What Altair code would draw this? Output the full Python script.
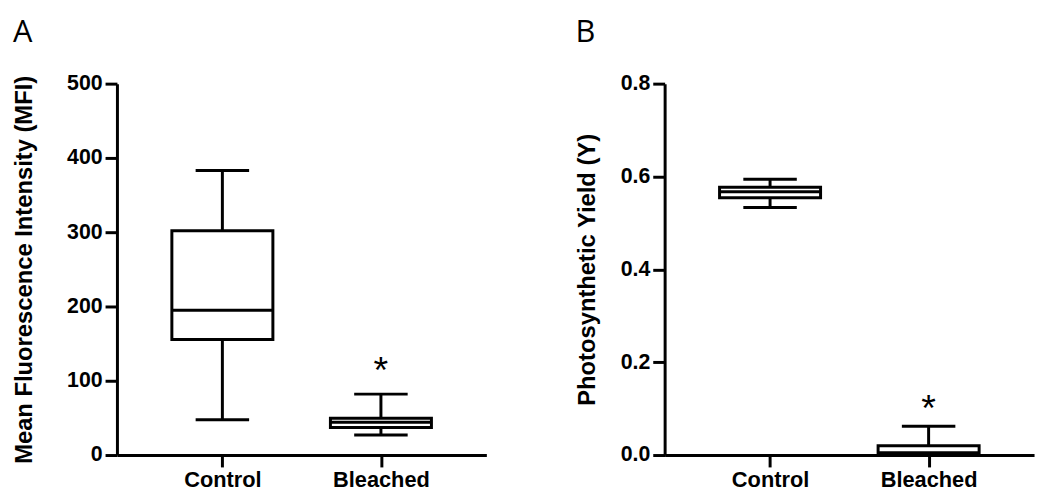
import altair as alt
import pandas as pd

categories = ["Control", "Bleached"]

# Panel A: Mean Fluorescence Intensity (MFI)
mfi_low = [47.5, 27.0]
mfi_q1 = [155.5, 37.0]
mfi_median = [195.0, 44.0]
mfi_q3 = [302.0, 49.5]
mfi_high = [383.0, 82.0]
mfi_star_group = ["Bleached"]
mfi_star = [124.0]
mfi_ticks = [0, 100, 200, 300, 400, 500]

# Panel B: Photosynthetic Yield (Y)
yield_low = [0.533, 0.0]
yield_q1 = [0.554, 0.003]
yield_median = [0.567, 0.005]
yield_q3 = [0.577, 0.020]
yield_high = [0.594, 0.062]
yield_star_group = ["Bleached"]
yield_star = [0.115]
yield_ticks = [0.0, 0.2, 0.4, 0.6, 0.8]


def panel(letter, low, q1, med, q3, high, star_group, star_vals, domain, ticks, fmt, ytitle, title_pad):
    df = pd.DataFrame({"group": categories, "low": low, "q1": q1, "median": med,
                       "q3": q3, "high": high})
    sdf = pd.DataFrame({"group": star_group, "star": star_vals})
    x = alt.X("group:N", sort=categories,
              scale=alt.Scale(type="point", padding=0.665),
              axis=alt.Axis(title=None, labelAngle=0, labelPadding=3, labelFontSize=22))
    yaxis = alt.Axis(title=ytitle, values=ticks, format=fmt, titlePadding=title_pad,
                     labelPadding=3)
    yscale = alt.Scale(domain=domain, nice=False, zero=True)

    def Y(f):
        return alt.Y(f, type="quantitative", scale=yscale, axis=yaxis)

    base = alt.Chart(df)
    whisk = base.mark_rule(color="black", strokeWidth=3).encode(x=x, y=Y("low"), y2="high")
    box = base.mark_bar(size=102, fill="white", stroke="black", strokeWidth=3,
                        opacity=1).encode(x=x, y=Y("q1"), y2="q3")
    medt = base.mark_tick(size=102, thickness=3, color="black", opacity=1).encode(x=x, y=Y("median"))
    cap_lo = base.mark_tick(size=54, thickness=3, color="black", opacity=1).encode(x=x, y=Y("low"))
    cap_hi = base.mark_tick(size=54, thickness=3, color="black", opacity=1).encode(x=x, y=Y("high"))
    star = alt.Chart(sdf).mark_text(text="*", fontSize=38, font="Liberation Sans",
                                    baseline="alphabetic", dy=20, color="black").encode(
        x=x, y=Y("star"))
    return alt.layer(whisk, box, medt, cap_lo, cap_hi, star).properties(
        width=373, height=375,
        title=alt.TitleParams(letter, anchor="start", frame="bounds", font="Open Sans",
                              fontSize=31, fontWeight="normal", color="black", offset=24),
    )


a = panel("A", mfi_low, mfi_q1, mfi_median, mfi_q3, mfi_high, mfi_star_group, mfi_star,
          [0, 500], mfi_ticks, "d", "Mean Fluorescence Intensity (MFI)", 30)
b = panel("B", yield_low, yield_q1, yield_median, yield_q3, yield_high, yield_star_group,
          yield_star, [0, 0.8], yield_ticks, ".1f", "Photosynthetic Yield (Y)", 21)

chart = alt.hconcat(a, b, spacing=90).configure_view(strokeWidth=0).configure_axis(
    domainWidth=3, domainColor="black", tickWidth=3, tickColor="black", tickSize=12,
    labelFont="Liberation Sans", labelFontWeight="bold", labelFontSize=21.5, labelColor="black",
    titleFont="Liberation Sans", titleFontWeight="bold", titleFontSize=24, titleColor="black",
    grid=False,
).properties(padding={"left": 5, "top": 7, "right": 5, "bottom": 5})

chart.save("out.html", embed_options={"renderer": "svg", "actions": False})
